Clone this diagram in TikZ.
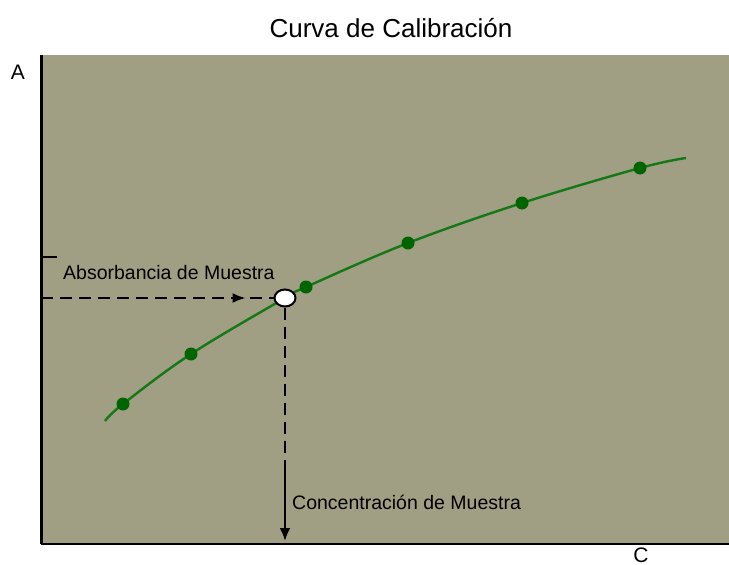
\documentclass[tikz,border=0pt]{standalone}
\usepackage{fontspec}
\setmainfont{Liberation Sans}
\usetikzlibrary{arrows.meta,decorations.markings,shapes.geometric}
\definecolor{plotbg}{RGB}{160,158,131}
\definecolor{dotgreen}{RGB}{0,100,0}
\definecolor{linegreen}{RGB}{20,120,20}
\tikzset{
  dotpt/.style={circle,fill=dotgreen,draw=none,minimum size=13pt,inner sep=0pt},
  lbl/.style={inner sep=0pt,font=\fontsize{19.5}{22}\selectfont},
  guide/.style={line width=2.3pt,dash pattern=on 12pt off 7pt},
}
\begin{document}
\begin{tikzpicture}[x=1pt,y=-1pt]
\useasboundingbox (0,0) rectangle (729,565);
\fill[plotbg] (41,55) rectangle (729,544);
% axes
\coordinate (ytop) at (41,55);
\coordinate (org) at (41,544);
\coordinate (xend) at (729,544);
\draw[line width=3pt] (ytop) -- (org);
\draw[line width=2pt] (org) -- (xend);
% tick
\coordinate (tk1) at (41,257);
\coordinate (tk2) at (57,257);
\draw[line width=1.2pt] (tk1) -- (tk2);
% title and axis labels
\node[anchor=base,inner sep=0pt,font=\fontsize{26}{30}\selectfont] (title) at (391,37) {Curva de Calibración};
\node[anchor=base,inner sep=0pt,font=\fontsize{21}{24}\selectfont] (alab) at (18,79) {A};
\node[anchor=base,inner sep=0pt,font=\fontsize{21}{24}\selectfont] (clab) at (641,562) {C};
% curve
\draw[linegreen,line width=2.4pt] plot[smooth,tension=0.6] coordinates {(105,421) (123,404) (191,354) (285,298) (306,287) (408,243) (522,203) (640,168) (686,158)};
\node[dotpt] (p1) at (123,404) {};
\node[dotpt] (p2) at (191,354) {};
\node[dotpt] (p3) at (306,287) {};
\node[dotpt] (p4) at (408,243) {};
\node[dotpt] (p5) at (522,203) {};
\node[dotpt] (p6) at (640,168) {};
% sample point
\node[ellipse,draw=black,fill=white,line width=2pt,minimum width=21pt,minimum height=17pt,inner sep=0pt] (smp) at (285,298) {};
\coordinate (hstart) at (41,298);
\coordinate (vmid) at (285,472);
\coordinate (vend) at (285,541);
\draw[guide,postaction={decorate},decoration={markings,mark=at position 0.88 with {\arrow{Latex[length=13pt,width=10pt]}}}] (hstart) -- (smp.west);
\draw[guide] (smp.south) -- (vmid);
\draw[line width=2.3pt,-{Latex[length=13pt,width=11pt]}] (vmid) -- (vend);
% labels
\node[lbl,anchor=base west] (abs) at (63,279) {Absorbancia de Muestra};
\node[lbl,anchor=base west] (conc) at (292,509) {Concentración de Muestra};
\end{tikzpicture}
\end{document}
